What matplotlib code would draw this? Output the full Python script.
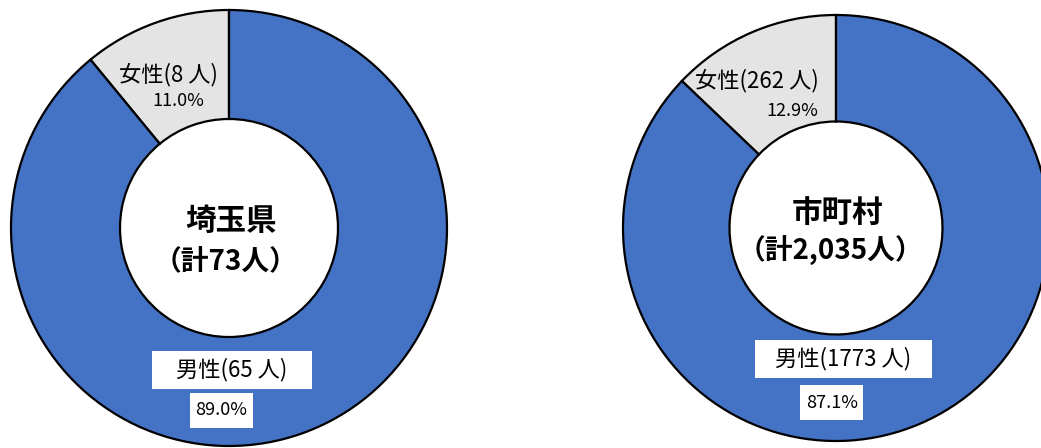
import matplotlib
matplotlib.use("Agg")
import matplotlib.pyplot as plt
from matplotlib.patches import Rectangle

plt.rcParams['font.family'] = ['Noto Sans CJK JP', 'DejaVu Sans']

# data
groups = ["埼玉県", "市町村"]
female = [8, 262]
male = [65, 1773]
totals = [73, 2035]

W, H = 1041, 448
fig = plt.figure(figsize=(W / 100, H / 100), dpi=100)
ax = fig.add_axes([0, 0, 1, 1])

blue = "#4472C4"
gray = "#E4E4E4"

# layout in pixel coords (y from top)
centers = [(229, 228), (836, 228)]
radii = [218, 213]
fem_pos = [((168, 75), (178, 101)), ((757, 81), (792, 111))]
male_pos = [((232, 370), (221, 410)), ((843, 359), (832, 403))]
# white label boxes: (x0, y0, x1, y1)
male_box = [(152, 351, 312, 389), (755, 340, 932, 378)]
pct_box = [(190, 393, 253, 428), (800, 385, 863, 420)]
title_pos = [((231, 221), (226, 262)), ((837, 213), (830, 251))]

for i in range(2):
    cx, cy = centers[i]
    r = radii[i]
    ax.pie([female[i], male[i]], startangle=90, counterclock=True,
           colors=[gray, blue], center=(cx, H - cy), radius=r,
           wedgeprops=dict(width=r * 0.5, edgecolor="black", linewidth=1.6))

    tot = female[i] + male[i]
    fp = female[i] / tot * 100
    mp = male[i] / tot * 100

    (x1, y1), (x2, y2) = fem_pos[i]
    ax.text(x1, H - y1, f"女性({female[i]} 人)", ha="center", va="center", fontsize=16)
    ax.text(x2, H - y2, f"{fp:.1f}%", ha="center", va="center", fontsize=13)

    for bx in (male_box[i], pct_box[i]):
        x0, y0, x1b, y1b = bx
        ax.add_patch(Rectangle((x0, H - y1b), x1b - x0, y1b - y0,
                               facecolor="white", edgecolor="none", zorder=3))

    (x1, y1), (x2, y2) = male_pos[i]
    ax.text(x1, H - y1, f"男性({male[i]} 人)", ha="center", va="center", fontsize=16, zorder=4)
    ax.text(x2, H - y2, f"{mp:.1f}%", ha="center", va="center", fontsize=13, zorder=4)

    (x1, y1), (x2, y2) = title_pos[i]
    ax.text(x1, H - y1, groups[i], ha="center", va="center", fontsize=22, fontweight="bold")
    ax.text(x2, H - y2, f"（計{totals[i]:,}人）", ha="center", va="center", fontsize=20,
            fontweight="bold")

ax.set_xlim(0, W)
ax.set_ylim(0, H)
ax.set_aspect("auto")
ax.axis("off")

fig.savefig("out.png", dpi=100)
